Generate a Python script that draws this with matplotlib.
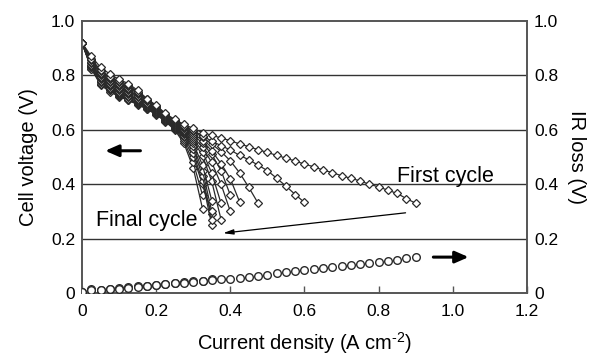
"""Cell voltage and IR loss over repeated polarization cycles."""
import matplotlib as mpl
import matplotlib.pyplot as plt

STEP_CURRENTS = [
    0.0, 0.025, 0.05, 0.075, 0.1, 0.125, 0.15, 0.175, 0.2, 0.225, 0.25, 0.275,
    0.3, 0.325, 0.35, 0.375, 0.4, 0.425, 0.45, 0.475, 0.5, 0.525, 0.55, 0.575,
    0.6, 0.625, 0.65, 0.675, 0.7, 0.725, 0.75, 0.775, 0.8, 0.825, 0.85, 0.875, 0.9,
]

# cell voltage per cycle, first cycle first (values at STEP_CURRENTS)
CYCLE_VOLTAGES = [
    [0.92, 0.87, 0.83, 0.805, 0.785, 0.77, 0.745, 0.715, 0.69, 0.66, 0.638, 0.62,
     0.605, 0.59, 0.58, 0.57, 0.56, 0.548, 0.538, 0.527, 0.517, 0.506, 0.496, 0.485,
     0.474, 0.464, 0.452, 0.443, 0.431, 0.422, 0.412, 0.40, 0.39, 0.378, 0.366, 0.347, 0.33],
    [0.92, 0.86, 0.82, 0.795, 0.78, 0.765, 0.74, 0.712, 0.688, 0.658, 0.635, 0.615,
     0.598, 0.578, 0.558, 0.542, 0.526, 0.506, 0.49, 0.47, 0.45, 0.422, 0.393, 0.362, 0.333],
    [0.92, 0.86, 0.815, 0.79, 0.775, 0.76, 0.738, 0.71, 0.685, 0.655, 0.632, 0.612,
     0.595, 0.572, 0.548, 0.52, 0.486, 0.442, 0.388, 0.33],
    [0.92, 0.855, 0.81, 0.785, 0.77, 0.755, 0.735, 0.708, 0.683, 0.652, 0.63, 0.608,
     0.588, 0.56, 0.522, 0.476, 0.42, 0.335],
    [0.92, 0.85, 0.805, 0.78, 0.765, 0.75, 0.73, 0.705, 0.68, 0.65, 0.628, 0.605,
     0.582, 0.55, 0.51, 0.45, 0.36],
    [0.92, 0.845, 0.80, 0.775, 0.76, 0.745, 0.725, 0.70, 0.677, 0.648, 0.625, 0.60,
     0.575, 0.535, 0.48, 0.40, 0.30],
    [0.92, 0.84, 0.795, 0.77, 0.755, 0.74, 0.72, 0.698, 0.675, 0.645, 0.622, 0.596,
     0.568, 0.52, 0.44, 0.33],
    [0.92, 0.84, 0.79, 0.765, 0.75, 0.735, 0.715, 0.695, 0.672, 0.643, 0.62, 0.592,
     0.56, 0.505, 0.41, 0.27],
    [0.92, 0.835, 0.785, 0.76, 0.745, 0.73, 0.71, 0.69, 0.67, 0.64, 0.618, 0.588,
     0.55, 0.47, 0.34],
    [0.92, 0.835, 0.78, 0.755, 0.74, 0.725, 0.706, 0.688, 0.668, 0.64, 0.615, 0.583,
     0.54, 0.45, 0.30],
    [0.92, 0.83, 0.775, 0.75, 0.735, 0.72, 0.703, 0.685, 0.665, 0.638, 0.612, 0.578,
     0.53, 0.43, 0.27],
    [0.92, 0.83, 0.775, 0.75, 0.73, 0.715, 0.70, 0.683, 0.662, 0.636, 0.61, 0.572,
     0.515, 0.41, 0.25],
    [0.92, 0.83, 0.77, 0.745, 0.728, 0.712, 0.698, 0.68, 0.66, 0.634, 0.607, 0.565,
     0.50, 0.40, 0.29],
    [0.92, 0.825, 0.77, 0.745, 0.725, 0.71, 0.695, 0.678, 0.658, 0.632, 0.604, 0.558,
     0.48, 0.36],
    [0.92, 0.825, 0.765, 0.74, 0.722, 0.708, 0.693, 0.676, 0.656, 0.63, 0.60, 0.55,
     0.46, 0.31],
]

# IR loss, first cycle and a later cycle
IR_FIRST = [
    0.003, 0.012, 0.010, 0.013, 0.016, 0.019, 0.022, 0.025, 0.028, 0.032, 0.035, 0.038,
    0.041, 0.044, 0.047, 0.050, 0.053, 0.056, 0.060, 0.064, 0.068, 0.072, 0.076, 0.080,
    0.084, 0.088, 0.092, 0.096, 0.100, 0.103, 0.107, 0.110, 0.114, 0.118, 0.122, 0.127, 0.132,
]
IR_LATER = [
    0.003, 0.014, 0.012, 0.015, 0.018, 0.021, 0.024, 0.027, 0.031, 0.034, 0.037, 0.040,
    0.043, 0.046, 0.050,
]

Y_TICKS = [0, 0.2, 0.4, 0.6, 0.8, 1.0]
Y_TICK_LABELS = ["0", "0.2", "0.4", "0.6", "0.8", "1.0"]
X_TICKS = [0, 0.2, 0.4, 0.6, 0.8, 1.0, 1.2]
X_TICK_LABELS = ["0", "0.2", "0.4", "0.6", "0.8", "1.0", "1.2"]

LINE = "#2a2a2a"
SPINE = "#555555"


def draw(path):
    mpl.rcParams.update({
        "font.family": ["Liberation Sans", "DejaVu Sans"],
        "mathtext.fontset": "custom", "mathtext.rm": "Liberation Sans",
        "mathtext.default": "regular",
        "figure.facecolor": "white", "axes.facecolor": "white",
    })
    figure = plt.figure(figsize=(6.02, 3.55), dpi=100)
    axis = figure.add_axes([0.1362, 0.1746, 0.7392, 0.7662])
    right = axis.twinx()

    for index in reversed(range(len(CYCLE_VOLTAGES))):
        volts = CYCLE_VOLTAGES[index]
        axis.plot(
            STEP_CURRENTS[:len(volts)], volts,
            marker="D", markersize=4.3, markerfacecolor="white",
            markeredgecolor=LINE, markeredgewidth=0.9,
            color=LINE, linewidth=0.9, zorder=3,
        )
    for values in (IR_LATER, IR_FIRST):
        right.plot(
            STEP_CURRENTS[:len(values)], values, linestyle="none",
            marker="o", markersize=5.5, markerfacecolor="white",
            markeredgecolor=LINE, markeredgewidth=1.0, zorder=3,
        )

    for level in Y_TICKS[1:-1]:
        axis.axhline(level, color="#333333", linewidth=1.0, zorder=1)

    axis.set_xlim(0, 1.2)
    axis.set_ylim(0, 1.0)
    right.set_ylim(0, 1.0)
    axis.set_xticks(X_TICKS, X_TICK_LABELS)
    axis.set_yticks(Y_TICKS, Y_TICK_LABELS)
    right.set_yticks(Y_TICKS, Y_TICK_LABELS)
    axis.tick_params(axis="x", direction="in", length=5, width=1, color=SPINE,
                     labelsize=12.5, pad=8)
    axis.tick_params(axis="y", length=0, labelsize=12.5, pad=5)
    right.tick_params(axis="y", length=0, labelsize=12.5, pad=5)
    for ax in (axis, right):
        for spine in ax.spines.values():
            spine.set_color(SPINE)
            spine.set_linewidth(1.2)

    axis.set_xlabel(r"Current density (A cm$^{\mathrm{\text{-}2}}$)", fontsize=14.5,
                    labelpad=8)
    axis.set_ylabel("Cell voltage (V)", fontsize=14.5, labelpad=9)
    right.set_ylabel("IR loss (V)", fontsize=14.5, rotation=270, labelpad=20)

    axis.annotate("", xy=(0.055, 0.523), xytext=(0.165, 0.523),
                  arrowprops=dict(arrowstyle="-|>,head_length=0.8,head_width=0.35",
                                  color="black", linewidth=2.2))
    right.annotate("", xy=(1.05, 0.132), xytext=(0.94, 0.132),
                   arrowprops=dict(arrowstyle="-|>,head_length=0.8,head_width=0.35",
                                   color="black", linewidth=2.2))
    axis.annotate("", xy=(0.373, 0.219), xytext=(0.88, 0.296),
                  arrowprops=dict(arrowstyle="-|>,head_length=0.6,head_width=0.15",
                                  color="black", linewidth=0.9), zorder=4)
    axis.text(0.849, 0.409, "First cycle", fontsize=15.5, ha="left", va="baseline")
    axis.text(0.038, 0.245, "Final cycle", fontsize=15.5, ha="left", va="baseline",
              zorder=5)

    figure.savefig(path, dpi=100, facecolor="white")
    plt.close(figure)


def main():
    draw("out.png")


if __name__ == "__main__":
    main()
